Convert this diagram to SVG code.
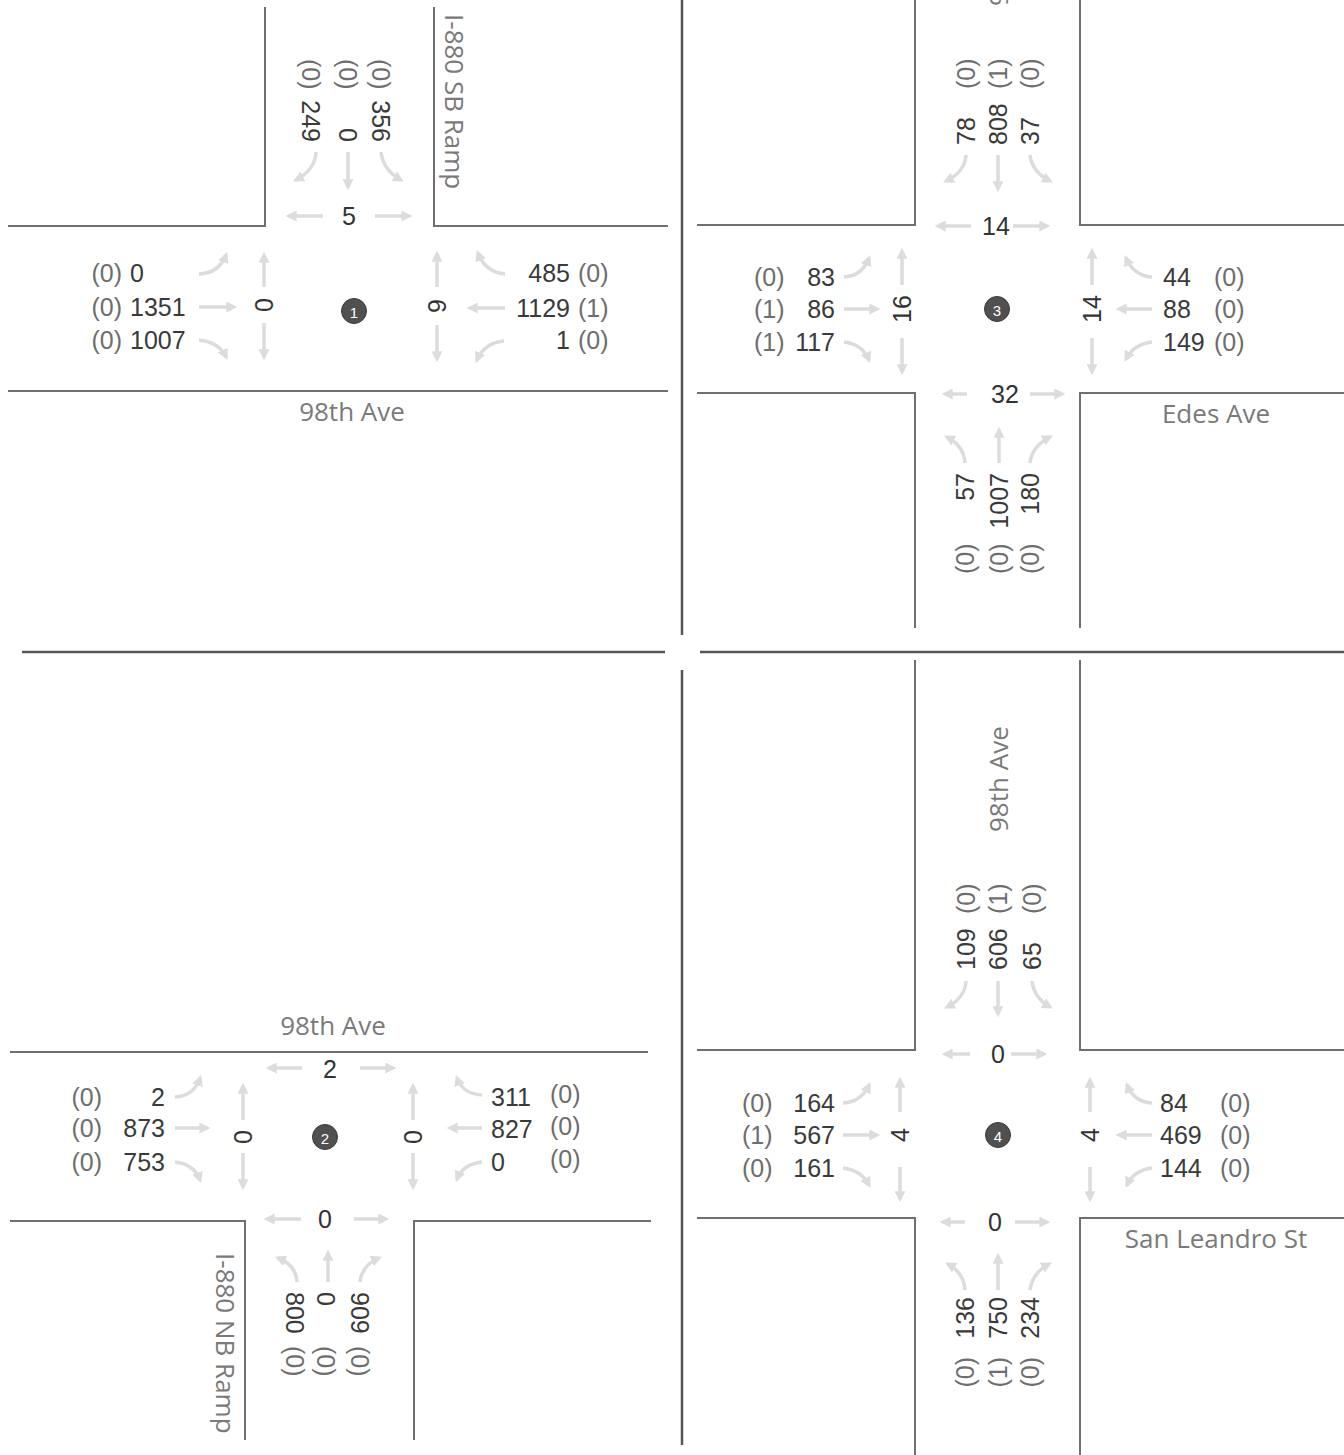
<svg xmlns="http://www.w3.org/2000/svg" width="1344" height="1455" viewBox="0 0 1344 1455">
<style>
.bg{fill:#fff}
.div{stroke:#555;stroke-width:2.5;fill:none}
.road{stroke:#707070;stroke-width:2;fill:none}
.arr{stroke:#dcdcdc;stroke-width:3.5;fill:none;marker-end:url(#ah)}
text{font-family:"Liberation Sans",Arial,sans-serif;font-size:25px;dominant-baseline:central}
.num{fill:#3a3a3a}
.par{fill:#6e6e6e}
.ped{fill:#333}
.st{font-family:"Open Sans","Noto Sans",sans-serif;font-size:26px;fill:#7a7a7a}
.m{text-anchor:middle}
.e{text-anchor:end}
.nd{fill:#505050;stroke:#3a3a3a;stroke-width:1}
.nt{fill:#fff;font-size:15px;text-anchor:middle}
</style>
<defs>
<marker id="ah" viewBox="0 0 10 10" refX="7" refY="5" markerWidth="11" markerHeight="11" markerUnits="userSpaceOnUse" orient="auto"><path d="M0,0 L10,5 L0,10 z" fill="#dcdcdc"/></marker>
</defs>
<rect class="bg" x="0" y="0" width="1344" height="1455"/>
<g id="dividers">
<path class="div" d="M682,0 V635 M682,670 V1445 M22,652 H665 M700,652 H1344"/>
</g>
<g id="roads">
<path class="road" d="M8,226 H265 V7 M434,7 V226 H668 M8,391 H668"/>
<path class="road" d="M697,225 H915 V0 M1080,0 V225 H1344 M697,393 H915 V628 M1080,628 V393 H1344"/>
<path class="road" d="M10,1052 H648 M10,1221 H245 V1440 M414,1440 V1221 H651"/>
<path class="road" d="M697,1050 H915 V660 M1080,660 V1050 H1344 M697,1218 H915 V1455 M1080,1455 V1218 H1344"/>
</g>
<g id="connectors">
<path class="arr" d="M199,274 Q219,273 226,255"/>
<path class="arr" d="M199,307 L234,307"/>
<path class="arr" d="M199,340 Q219,342 226,357"/>
<path class="arr" d="M505,274 Q485,272 478,253"/>
<path class="arr" d="M505,308 L470,308"/>
<path class="arr" d="M504,341 Q484,343 477,360"/>
<path class="arr" d="M316,152 Q315,170 296,180"/>
<path class="arr" d="M348,152 L348,187"/>
<path class="arr" d="M381,152 Q383,170 401,180"/>
<path class="arr" d="M264,287 L264,255"/>
<path class="arr" d="M264,323 L264,357"/>
<path class="arr" d="M437,287 L437,254"/>
<path class="arr" d="M437,325 L437,359"/>
<path class="arr" d="M323,216 L289,216"/>
<path class="arr" d="M375,216 L409,216"/>

<path class="arr" d="M844,277 Q862,276 869,258"/>
<path class="arr" d="M844,309 L877,309"/>
<path class="arr" d="M844,342 Q862,344 869,360"/>
<path class="arr" d="M1152,277 Q1134,276 1126,258"/>
<path class="arr" d="M1152,309 L1119,309"/>
<path class="arr" d="M1152,342 Q1134,344 1126,359"/>
<path class="arr" d="M966,155 Q965,172 946,181"/>
<path class="arr" d="M998,155 L998,189"/>
<path class="arr" d="M1030,155 Q1032,172 1050,181"/>
<path class="arr" d="M965,463 Q964,446 947,437"/>
<path class="arr" d="M999,463 L999,430"/>
<path class="arr" d="M1030,463 Q1032,446 1050,437"/>
<path class="arr" d="M902,285 L902,251"/>
<path class="arr" d="M902,338 L902,372"/>
<path class="arr" d="M1092,285 L1092,251"/>
<path class="arr" d="M1092,338 L1092,372"/>
<path class="arr" d="M971,226 L938,226"/>
<path class="arr" d="M1013,226 L1047,226"/>
<path class="arr" d="M967,394 L945,394"/>
<path class="arr" d="M1030,394 L1062,394"/>

<path class="arr" d="M843,1103 Q861,1102 869,1085"/>
<path class="arr" d="M843,1135 L877,1135"/>
<path class="arr" d="M843,1168 Q861,1170 869,1185"/>
<path class="arr" d="M1152,1103 Q1134,1102 1127,1085"/>
<path class="arr" d="M1152,1135 L1119,1135"/>
<path class="arr" d="M1152,1168 Q1134,1170 1127,1185"/>
<path class="arr" d="M966,981 Q965,998 947,1007"/>
<path class="arr" d="M998,981 L998,1014"/>
<path class="arr" d="M1032,981 Q1034,998 1050,1007"/>
<path class="arr" d="M965,1290 Q964,1273 948,1264"/>
<path class="arr" d="M998,1290 L998,1256"/>
<path class="arr" d="M1030,1290 Q1032,1273 1049,1264"/>
<path class="arr" d="M900,1112 L900,1080"/>
<path class="arr" d="M900,1167 L900,1199"/>
<path class="arr" d="M1090,1112 L1090,1080"/>
<path class="arr" d="M1090,1167 L1090,1199"/>
<path class="arr" d="M970,1054 L945,1054"/>
<path class="arr" d="M1011,1054 L1044,1054"/>
<path class="arr" d="M965,1222 L943,1222"/>
<path class="arr" d="M1015,1222 L1047,1222"/>

<path class="arr" d="M175,1097 Q194,1096 200,1078"/>
<path class="arr" d="M175,1128 L207,1128"/>
<path class="arr" d="M175,1162 Q194,1164 200,1180"/>
<path class="arr" d="M482,1095 Q463,1094 457,1078"/>
<path class="arr" d="M482,1128 L450,1128"/>
<path class="arr" d="M482,1162 Q463,1164 457,1179"/>
<path class="arr" d="M297,1282 Q296,1265 278,1258"/>
<path class="arr" d="M328,1282 L328,1253"/>
<path class="arr" d="M360,1282 Q362,1265 379,1258"/>
<path class="arr" d="M243,1120 L243,1086"/>
<path class="arr" d="M243,1153 L243,1187"/>
<path class="arr" d="M413,1120 L413,1086"/>
<path class="arr" d="M413,1153 L413,1187"/>
<path class="arr" d="M302,1068 L269,1068"/>
<path class="arr" d="M360,1068 L393,1068"/>
<path class="arr" d="M301,1219 L267,1219"/>
<path class="arr" d="M354,1219 L386,1219"/>
</g>

<g id="streets">
<text class="st m" x="352" y="411">98th Ave</text>
<text class="st" transform="translate(455,14) rotate(90)">I-880 SB Ramp</text>
<text class="st m" x="1216" y="413">Edes Ave</text>
<text class="st" transform="translate(998,6) rotate(-90)">98th Ave</text>
<text class="st" transform="translate(998,832) rotate(-90)">98th Ave</text>
<text class="st m" x="1216" y="1238">San Leandro St</text>
<text class="st m" x="333" y="1025">98th Ave</text>
<text class="st" transform="translate(226,1253) rotate(90)">I-880 NB Ramp</text>
</g>

<g id="node1">
<circle class="nd" cx="354" cy="311" r="12.5"/>
<text class="nt" x="354" y="312">1</text>
<text class="par e" x="122" y="273">(0)</text>
<text class="par e" x="122" y="307">(0)</text>
<text class="par e" x="122" y="340">(0)</text>
<text class="num" x="130" y="273">0</text>
<text class="num" x="130" y="307">1351</text>
<text class="num" x="130" y="340">1007</text>
<text class="num e" x="570" y="273">485</text>
<text class="num e" x="570" y="308">1129</text>
<text class="num e" x="570" y="340">1</text>
<text class="par" x="578" y="273">(0)</text>
<text class="par" x="578" y="308">(1)</text>
<text class="par" x="578" y="340">(0)</text>
<text class="par" transform="translate(311,59) rotate(90)">(0)</text>
<text class="par" transform="translate(348,59) rotate(90)">(0)</text>
<text class="par" transform="translate(381,59) rotate(90)">(0)</text>
<text class="num e" transform="translate(311,142) rotate(90)">249</text>
<text class="num e" transform="translate(348,142) rotate(90)">0</text>
<text class="num e" transform="translate(381,142) rotate(90)">356</text>
<text class="ped m" x="349" y="216">5</text>
<text class="ped m" transform="translate(264,305) rotate(-90)">0</text>
<text class="ped m" transform="translate(437,306) rotate(-90)">9</text>
</g>

<g id="node3">
<circle class="nd" cx="997" cy="309" r="12.5"/>
<text class="nt" x="997" y="310">3</text>
<text class="par" x="754" y="277">(0)</text>
<text class="par" x="754" y="309">(1)</text>
<text class="par" x="754" y="342">(1)</text>
<text class="num e" x="835" y="277">83</text>
<text class="num e" x="835" y="309">86</text>
<text class="num e" x="835" y="342">117</text>
<text class="num" x="1163" y="277">44</text>
<text class="num" x="1163" y="309">88</text>
<text class="num" x="1163" y="342">149</text>
<text class="par" x="1214" y="277">(0)</text>
<text class="par" x="1214" y="309">(0)</text>
<text class="par" x="1214" y="342">(0)</text>
<text class="num" transform="translate(966,145) rotate(-90)">78</text>
<text class="num" transform="translate(998,145) rotate(-90)">808</text>
<text class="num" transform="translate(1030,145) rotate(-90)">37</text>
<text class="par" transform="translate(966,89) rotate(-90)">(0)</text>
<text class="par" transform="translate(998,89) rotate(-90)">(1)</text>
<text class="par" transform="translate(1030,89) rotate(-90)">(0)</text>
<text class="num e" transform="translate(965,473) rotate(-90)">57</text>
<text class="num e" transform="translate(999,473) rotate(-90)">1007</text>
<text class="num e" transform="translate(1030,473) rotate(-90)">180</text>
<text class="par" transform="translate(965,574) rotate(-90)">(0)</text>
<text class="par" transform="translate(999,574) rotate(-90)">(0)</text>
<text class="par" transform="translate(1030,574) rotate(-90)">(0)</text>
<text class="ped m" x="996" y="226">14</text>
<text class="ped m" x="1005" y="394">32</text>
<text class="ped m" transform="translate(902,309) rotate(-90)">16</text>
<text class="ped m" transform="translate(1092,309) rotate(-90)">14</text>
</g>

<g id="node2">
<circle class="nd" cx="325" cy="1137" r="12.5"/>
<text class="nt" x="325" y="1138">2</text>
<text class="par e" x="102" y="1097">(0)</text>
<text class="par e" x="102" y="1128">(0)</text>
<text class="par e" x="102" y="1162">(0)</text>
<text class="num e" x="165" y="1097">2</text>
<text class="num e" x="165" y="1128">873</text>
<text class="num e" x="165" y="1162">753</text>
<text class="num" x="491" y="1097">311</text>
<text class="num" x="491" y="1129">827</text>
<text class="num" x="491" y="1162">0</text>
<text class="par" x="550" y="1094">(0)</text>
<text class="par" x="550" y="1126">(0)</text>
<text class="par" x="550" y="1159">(0)</text>
<text class="num" transform="translate(295,1292) rotate(90)">800</text>
<text class="num" transform="translate(326,1292) rotate(90)">0</text>
<text class="num" transform="translate(360,1292) rotate(90)">909</text>
<text class="par" transform="translate(295,1346) rotate(90)">(0)</text>
<text class="par" transform="translate(326,1346) rotate(90)">(0)</text>
<text class="par" transform="translate(360,1346) rotate(90)">(0)</text>
<text class="ped m" x="330" y="1069">2</text>
<text class="ped m" x="325" y="1219">0</text>
<text class="ped m" transform="translate(243,1137) rotate(-90)">0</text>
<text class="ped m" transform="translate(413,1137) rotate(-90)">0</text>
</g>

<g id="node4">
<circle class="nd" cx="998" cy="1135" r="12.5"/>
<text class="nt" x="998" y="1136">4</text>
<text class="par" x="742" y="1103">(0)</text>
<text class="par" x="742" y="1135">(1)</text>
<text class="par" x="742" y="1168">(0)</text>
<text class="num e" x="835" y="1103">164</text>
<text class="num e" x="835" y="1135">567</text>
<text class="num e" x="835" y="1168">161</text>
<text class="num" x="1160" y="1103">84</text>
<text class="num" x="1160" y="1135">469</text>
<text class="num" x="1160" y="1168">144</text>
<text class="par" x="1220" y="1103">(0)</text>
<text class="par" x="1220" y="1135">(0)</text>
<text class="par" x="1220" y="1168">(0)</text>
<text class="num" transform="translate(966,970) rotate(-90)">109</text>
<text class="num" transform="translate(998,970) rotate(-90)">606</text>
<text class="num" transform="translate(1032,970) rotate(-90)">65</text>
<text class="par" transform="translate(966,914) rotate(-90)">(0)</text>
<text class="par" transform="translate(998,914) rotate(-90)">(1)</text>
<text class="par" transform="translate(1032,914) rotate(-90)">(0)</text>
<text class="num e" transform="translate(965,1297) rotate(-90)">136</text>
<text class="num e" transform="translate(998,1297) rotate(-90)">750</text>
<text class="num e" transform="translate(1030,1297) rotate(-90)">234</text>
<text class="par e" transform="translate(965,1357) rotate(-90)">(0)</text>
<text class="par e" transform="translate(998,1357) rotate(-90)">(1)</text>
<text class="par e" transform="translate(1030,1357) rotate(-90)">(0)</text>
<text class="ped m" x="998" y="1054">0</text>
<text class="ped m" x="995" y="1222">0</text>
<text class="ped m" transform="translate(900,1135) rotate(-90)">4</text>
<text class="ped m" transform="translate(1090,1135) rotate(-90)">4</text>
</g>
</svg>
